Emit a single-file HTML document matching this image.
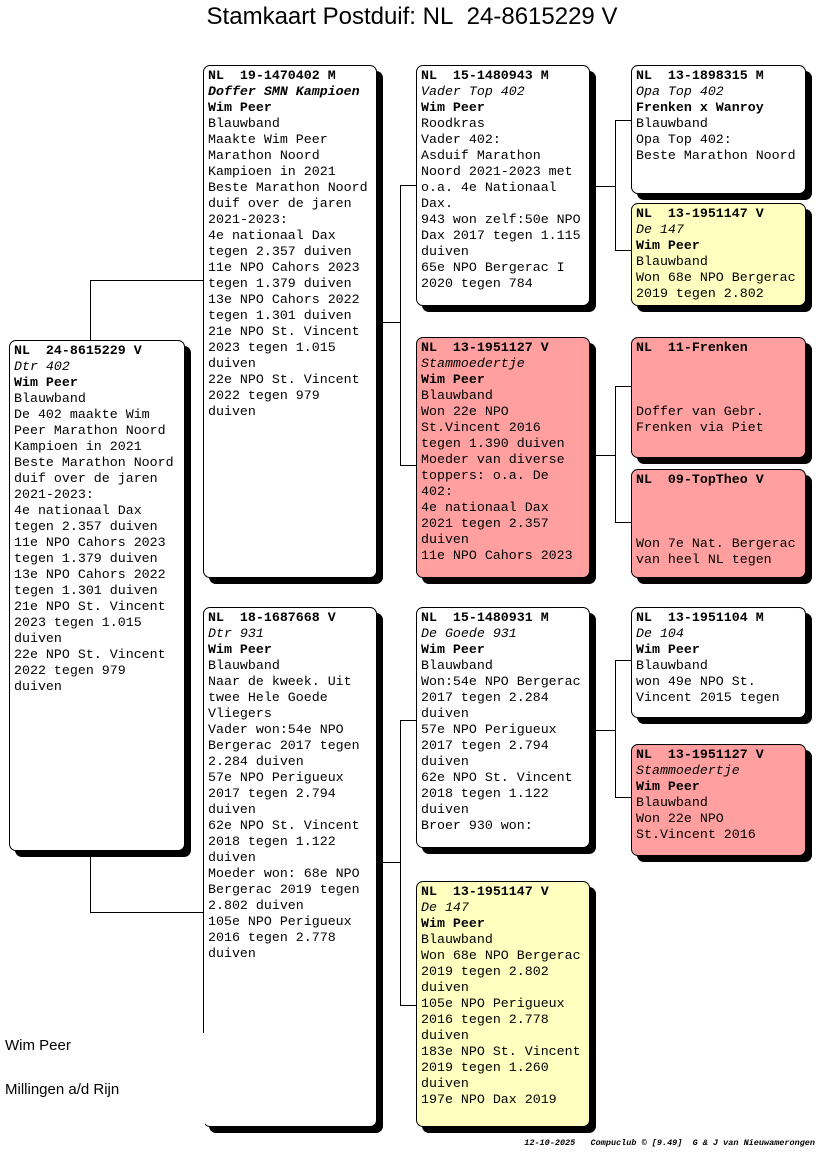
<!DOCTYPE html>
<html><head><meta charset="utf-8"><style>
body{margin:0;width:816px;height:1172px;background:#fff;position:relative;overflow:hidden}
.c{position:absolute;border:1px solid #000;border-radius:7px;box-shadow:6px 6px 0 #000;box-sizing:border-box;padding:2px 4px;font-family:"Liberation Mono",monospace;font-size:13.3px;line-height:16px;color:#000;white-space:pre;overflow:hidden}
.w{background:#fff}.y{background:#ffffc0}.r{background:#ff9f9f}
b{font-weight:bold}i{font-style:italic}
.l{position:absolute;background:#000}
.t{position:absolute;font-family:"Liberation Sans",sans-serif}
</style></head><body>
<div class="t" style="left:0;width:824px;top:3px;text-align:center;font-size:24px;">Stamkaart Postduif: NL&nbsp; 24-8615229 V</div>

<!-- connectors -->
<div class="l" style="left:90px;top:280px;width:1px;height:60px"></div>
<div class="l" style="left:90px;top:280px;width:113px;height:1px"></div>
<div class="l" style="left:90px;top:856px;width:1px;height:56px"></div>
<div class="l" style="left:90px;top:912px;width:113px;height:1px"></div>

<div class="l" style="left:382px;top:322px;width:18px;height:1px"></div>
<div class="l" style="left:400px;top:185px;width:1px;height:281px"></div>
<div class="l" style="left:400px;top:185px;width:16px;height:1px"></div>
<div class="l" style="left:400px;top:465px;width:16px;height:1px"></div>

<div class="l" style="left:382px;top:862px;width:18px;height:1px"></div>
<div class="l" style="left:400px;top:720px;width:1px;height:286px"></div>
<div class="l" style="left:400px;top:720px;width:16px;height:1px"></div>
<div class="l" style="left:400px;top:1005px;width:16px;height:1px"></div>

<div class="l" style="left:595px;top:186px;width:20px;height:1px"></div>
<div class="l" style="left:615px;top:120px;width:1px;height:131px"></div>
<div class="l" style="left:615px;top:120px;width:16px;height:1px"></div>
<div class="l" style="left:615px;top:250px;width:16px;height:1px"></div>

<div class="l" style="left:595px;top:455px;width:20px;height:1px"></div>
<div class="l" style="left:615px;top:386px;width:1px;height:137px"></div>
<div class="l" style="left:615px;top:386px;width:16px;height:1px"></div>
<div class="l" style="left:615px;top:522px;width:16px;height:1px"></div>

<div class="l" style="left:595px;top:730px;width:20px;height:1px"></div>
<div class="l" style="left:615px;top:660px;width:1px;height:138px"></div>
<div class="l" style="left:615px;top:660px;width:16px;height:1px"></div>
<div class="l" style="left:615px;top:797px;width:16px;height:1px"></div>

<!-- proband -->
<div class="c w" style="left:9px;top:340px;width:176px;height:511px"><b>NL  24-8615229 V</b>
<i>Dtr 402</i>
<b>Wim Peer</b>
Blauwband
De 402 maakte Wim
Peer Marathon Noord
Kampioen in 2021
Beste Marathon Noord
duif over de jaren
2021-2023:
4e nationaal Dax
tegen 2.357 duiven
11e NPO Cahors 2023
tegen 1.379 duiven
13e NPO Cahors 2022
tegen 1.301 duiven
21e NPO St. Vincent
2023 tegen 1.015
duiven
22e NPO St. Vincent
2022 tegen 979
duiven</div>

<!-- gen1 -->
<div class="c w" style="left:203px;top:65px;width:174px;height:513px"><b>NL  19-1470402 M</b>
<b><i>Doffer SMN Kampioen</i></b>
<b>Wim Peer</b>
Blauwband
Maakte Wim Peer
Marathon Noord
Kampioen in 2021
Beste Marathon Noord
duif over de jaren
2021-2023:
4e nationaal Dax
tegen 2.357 duiven
11e NPO Cahors 2023
tegen 1.379 duiven
13e NPO Cahors 2022
tegen 1.301 duiven
21e NPO St. Vincent
2023 tegen 1.015
duiven
22e NPO St. Vincent
2022 tegen 979
duiven</div>

<div class="c w" style="left:203px;top:607px;width:174px;height:520px"><b>NL  18-1687668 V</b>
<i>Dtr 931</i>
<b>Wim Peer</b>
Blauwband
Naar de kweek. Uit
twee Hele Goede
Vliegers
Vader won:54e NPO
Bergerac 2017 tegen
2.284 duiven
57e NPO Perigueux
2017 tegen 2.794
duiven
62e NPO St. Vincent
2018 tegen 1.122
duiven
Moeder won: 68e NPO
Bergerac 2019 tegen
2.802 duiven
105e NPO Perigueux
2016 tegen 2.778
duiven</div>

<!-- gen2 -->
<div class="c w" style="left:416px;top:65px;width:174px;height:241px"><b>NL  15-1480943 M</b>
<i>Vader Top 402</i>
<b>Wim Peer</b>
Roodkras
Vader 402:
Asduif Marathon
Noord 2021-2023 met
o.a. 4e Nationaal
Dax.
943 won zelf:50e NPO
Dax 2017 tegen 1.115
duiven
65e NPO Bergerac I
2020 tegen 784</div>

<div class="c r" style="left:416px;top:337px;width:174px;height:241px"><b>NL  13-1951127 V</b>
<i>Stammoedertje</i>
<b>Wim Peer</b>
Blauwband
Won 22e NPO
St.Vincent 2016
tegen 1.390 duiven
Moeder van diverse
toppers: o.a. De
402:
4e nationaal Dax
2021 tegen 2.357
duiven
11e NPO Cahors 2023</div>

<div class="c w" style="left:416px;top:607px;width:174px;height:241px"><b>NL  15-1480931 M</b>
<i>De Goede 931</i>
<b>Wim Peer</b>
Blauwband
Won:54e NPO Bergerac
2017 tegen 2.284
duiven
57e NPO Perigueux
2017 tegen 2.794
duiven
62e NPO St. Vincent
2018 tegen 1.122
duiven
Broer 930 won:</div>

<div class="c y" style="left:416px;top:881px;width:174px;height:246px"><b>NL  13-1951147 V</b>
<i>De 147</i>
<b>Wim Peer</b>
Blauwband
Won 68e NPO Bergerac
2019 tegen 2.802
duiven
105e NPO Perigueux
2016 tegen 2.778
duiven
183e NPO St. Vincent
2019 tegen 1.260
duiven
197e NPO Dax 2019</div>

<!-- gen3 -->
<div class="c w" style="left:631px;top:65px;width:175px;height:129px"><b>NL  13-1898315 M</b>
<i>Opa Top 402</i>
<b>Frenken x Wanroy</b>
Blauwband
Opa Top 402:
Beste Marathon Noord</div>
<div class="c y" style="left:631px;top:203px;width:175px;height:103px"><b>NL  13-1951147 V</b>
<i>De 147</i>
<b>Wim Peer</b>
Blauwband
Won 68e NPO Bergerac
2019 tegen 2.802</div>
<div class="c r" style="left:631px;top:337px;width:175px;height:121px"><b>NL  11-Frenken</b>



Doffer van Gebr.
Frenken via Piet</div>
<div class="c r" style="left:631px;top:469px;width:175px;height:109px"><b>NL  09-TopTheo V</b>



Won 7e Nat. Bergerac
van heel NL tegen</div>
<div class="c w" style="left:631px;top:607px;width:175px;height:111px"><b>NL  13-1951104 M</b>
<i>De 104</i>
<b>Wim Peer</b>
Blauwband
won 49e NPO St.
Vincent 2015 tegen</div>
<div class="c r" style="left:631px;top:744px;width:175px;height:112px"><b>NL  13-1951127 V</b>
<i>Stammoedertje</i>
<b>Wim Peer</b>
Blauwband
Won 22e NPO
St.Vincent 2016</div>

<div style="position:absolute;left:0;top:1033px;width:205px;height:100px;background:#fff"></div>
<div class="t" style="left:5px;top:1037px;font-size:15px">Wim Peer</div>
<div class="t" style="left:5px;top:1081px;font-size:15px">Millingen a/d Rijn</div>
<div style="position:absolute;right:1px;top:1138px;font-family:'Liberation Mono',monospace;font-style:italic;font-weight:bold;font-size:8.5px;white-space:pre">12-10-2025   Compuclub © [9.49]  G &amp; J van Nieuwamerongen</div>
</body></html>
